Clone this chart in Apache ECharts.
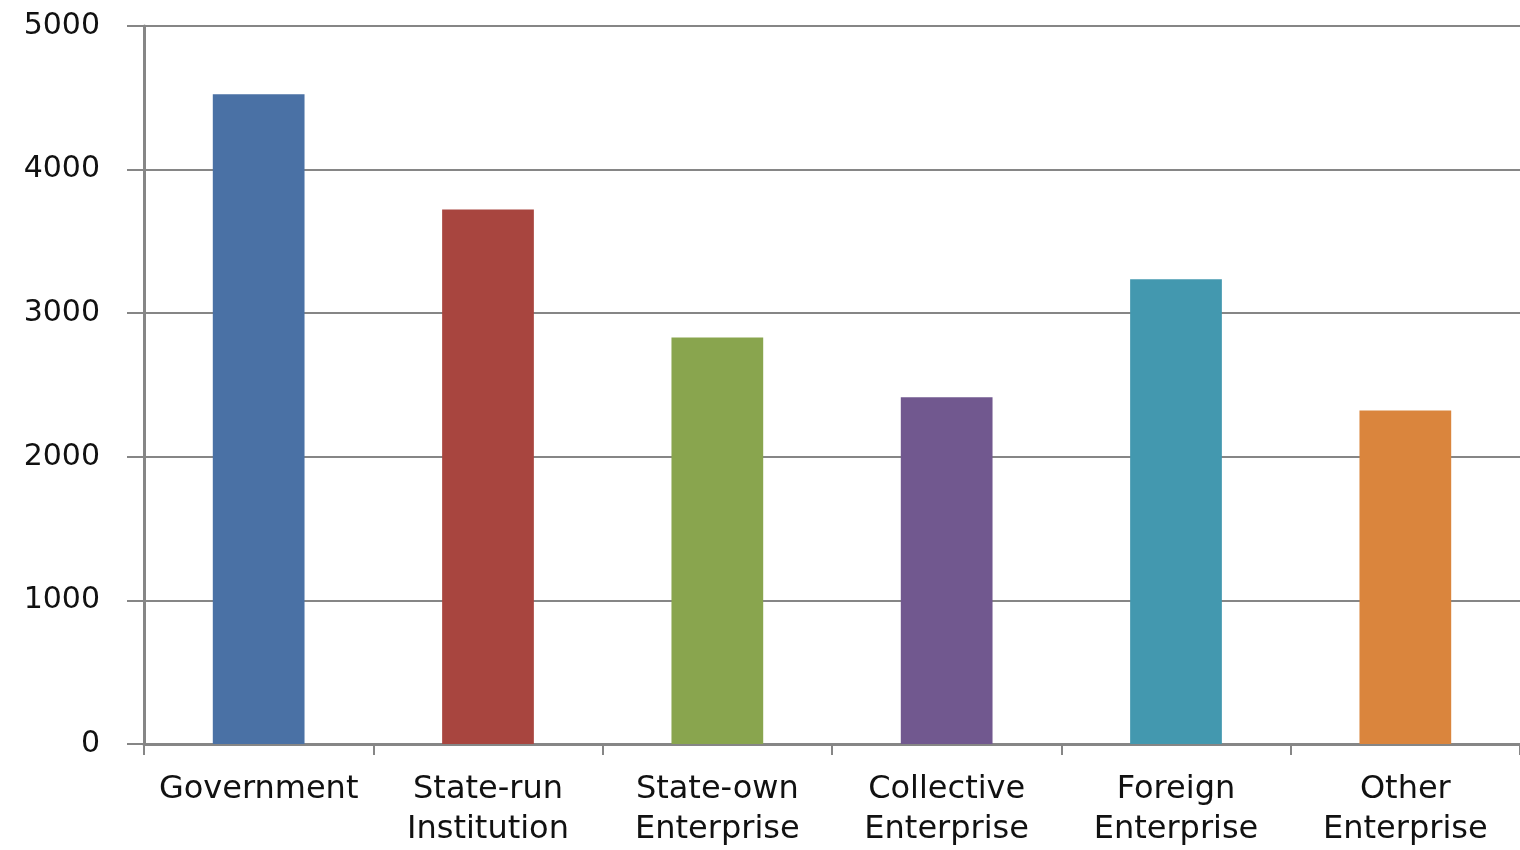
<!DOCTYPE html>
<html>
<head>
<meta charset="utf-8">
<script src="https://cdn.jsdelivr.net/npm/echarts@6/dist/echarts.min.js"></script>
<style>html,body{margin:0;padding:0;background:#fff;overflow:hidden}#c{width:1520px;height:850px}</style>
</head>
<body>
<div id="c"></div>
<script>
const categories = ["Government", "State-run\nInstitution", "State-own\nEnterprise", "Collective\nEnterprise", "Foreign\nEnterprise", "Other\nEnterprise"];
const values = [4525, 3722, 2830, 2414, 3237, 2322];
const barColors = ["#4A71A5", "#A8453F", "#89A54E", "#71588F", "#4398AF", "#DA853D"];
const yTicks = { min: 0, max: 5000, interval: 1000 };

const chart = echarts.init(document.getElementById('c'), null, { renderer: 'canvas' });
chart.setOption({
  animation: false,
  backgroundColor: '#ffffff',
  grid: { left: 144, right: 0, top: 26, bottom: 101, containLabel: false },
  xAxis: {
    type: 'category',
    data: categories,
    axisLine: { show: true, lineStyle: { color: '#868686', width: 3 } },
    axisTick: { show: true, length: 11, lineStyle: { color: '#868686', width: 2 } },
    axisLabel: {
      interval: 0,
      margin: 26,
      color: '#111',
      fontFamily: 'DejaVu Sans',
      fontSize: 32,
      lineHeight: 40
    }
  },
  yAxis: {
    type: 'value',
    min: yTicks.min, max: yTicks.max, interval: yTicks.interval,
    axisLine: { show: true, lineStyle: { color: '#868686', width: 3 } },
    axisTick: { show: true, length: 17, lineStyle: { color: '#868686', width: 2 } },
    splitLine: { show: true, lineStyle: { color: '#868686', width: 2 } },
    axisLabel: {
      margin: 44,
      color: '#111',
      fontFamily: 'DejaVu Sans',
      fontSize: 30,
      formatter: v => String(v)
    }
  },
  series: [{
    type: 'bar',
    barWidth: '40%',
    data: values.map((v, i) => ({
      value: v,
      itemStyle: { color: barColors[i] }
    }))
  }]
});
</script>
</body>
</html>
